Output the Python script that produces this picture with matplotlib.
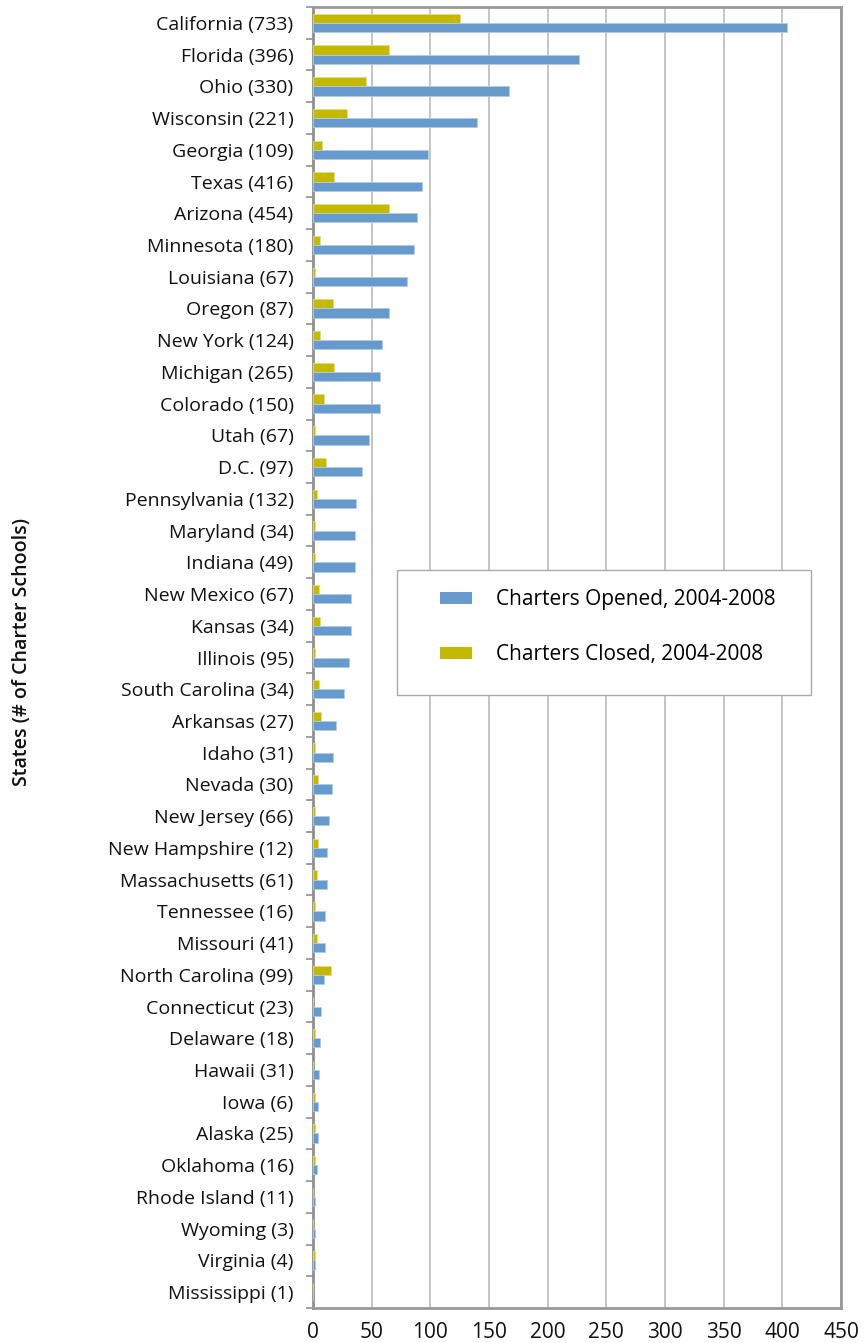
import matplotlib
matplotlib.use("Agg")
import matplotlib.pyplot as plt
from matplotlib.patches import Rectangle, Patch
import numpy as np

states = ["California (733)", "Florida (396)", "Ohio (330)", "Wisconsin (221)", "Georgia (109)",
          "Texas (416)", "Arizona (454)", "Minnesota (180)", "Louisiana (67)", "Oregon (87)",
          "New York (124)", "Michigan (265)", "Colorado (150)", "Utah (67)", "D.C. (97)",
          "Pennsylvania (132)", "Maryland (34)", "Indiana (49)", "New Mexico (67)", "Kansas (34)",
          "Illinois (95)", "South Carolina (34)", "Arkansas (27)", "Idaho (31)", "Nevada (30)",
          "New Jersey (66)", "New Hampshire (12)", "Massachusetts (61)", "Tennessee (16)",
          "Missouri (41)", "North Carolina (99)", "Connecticut (23)", "Delaware (18)",
          "Hawaii (31)", "Iowa (6)", "Alaska (25)", "Oklahoma (16)", "Rhode Island (11)",
          "Wyoming (3)", "Virginia (4)", "Mississippi (1)"]

opened = [404, 227, 167, 140, 98, 93, 89, 86, 80, 65, 59, 57, 57, 48, 42, 37, 36, 36, 32, 32,
          31, 26, 20, 17, 16, 14, 12, 12, 10, 10, 9, 7, 6, 5, 4, 4, 3, 2, 2, 2, 0]
closed = [125, 65, 45, 29, 8, 18, 65, 6, 2, 17, 6, 18, 9, 2, 11, 3, 2, 2, 5, 6,
          2, 5, 7, 2, 4, 2, 4, 3, 2, 3, 15, 0, 2, 0, 2, 2, 2, 0, 0, 2, 0]

xticks = [0, 50, 100, 150, 200, 250, 300, 350, 400, 450]
label_opened = "Charters Opened, 2004-2008"
label_closed = "Charters Closed, 2004-2008"
ylabel = "States (# of Charter Schools)"

BLUE = "#6699CC"
YELLOW = "#C4B800"
FONT = ["Open Sans", "DejaVu Sans"]
plt.rcParams["font.family"] = FONT

W, H = 865, 1343
fig = plt.figure(figsize=(W / 100, H / 100), dpi=100)
fig.patch.set_facecolor("white")
ax = fig.add_axes([313 / W, 1 - 1308 / H, (841 - 313) / W, (1308 - 7) / H])

n = len(states)
y = np.arange(n)
h = 0.29
ax.barh(y - h / 2, closed, height=h, color=YELLOW, edgecolor="#e3dc80", linewidth=0.6, zorder=3)
ax.barh(y + h / 2, opened, height=h, color=BLUE, edgecolor="#b3cce6", linewidth=0.6, zorder=3)

ax.set_xlim(0, 450)
ax.set_ylim(n - 0.5, -0.5)
ax.set_xticks(xticks)
ax.set_xticklabels([str(t) for t in xticks], fontsize=15, color="#111111")
ax.set_yticks(y)
ax.set_yticklabels(states, fontsize=14, color="#111111")
ax.set_yticks(np.arange(n + 1) - 0.5, minor=True)
ax.tick_params(axis="y", which="major", length=0, pad=14)
ax.tick_params(axis="y", which="minor", length=5, width=1.3, color="#999999")
ax.tick_params(axis="x", which="major", length=0, pad=10)

ax.set_axisbelow(True)
ax.grid(axis="x", color="#bbbbbb", linewidth=1.2, zorder=0)
for s in ax.spines.values():
    s.set_color("#999999")
    s.set_linewidth(2.0)
ax.spines["left"].set_color("#8f8f8f")

fig.text(22 / W, 1 - 652 / H, ylabel, rotation=90, ha="center", va="center",
         fontsize=14, fontweight="semibold", color="#111111")

# legend box
fig.patches.append(Rectangle((397 / W, 1 - 695 / H), 414 / W, 125 / H, transform=fig.transFigure,
                             facecolor="white", edgecolor="#aaaaaa", linewidth=1.0, zorder=4))
handles = [Patch(facecolor=BLUE, edgecolor="none"), Patch(facecolor=YELLOW, edgecolor="none")]
fig.legend(handles, [label_opened, label_closed], loc="upper left",
           bbox_to_anchor=(440 / W, 1 - 589 / H), frameon=False, fontsize=15,
           handlelength=1.55, handleheight=0.5, handletextpad=1.15, labelspacing=1.65,
           borderpad=0, borderaxespad=0).set_zorder(5)

fig.savefig("out.png", dpi=100, facecolor="white")
